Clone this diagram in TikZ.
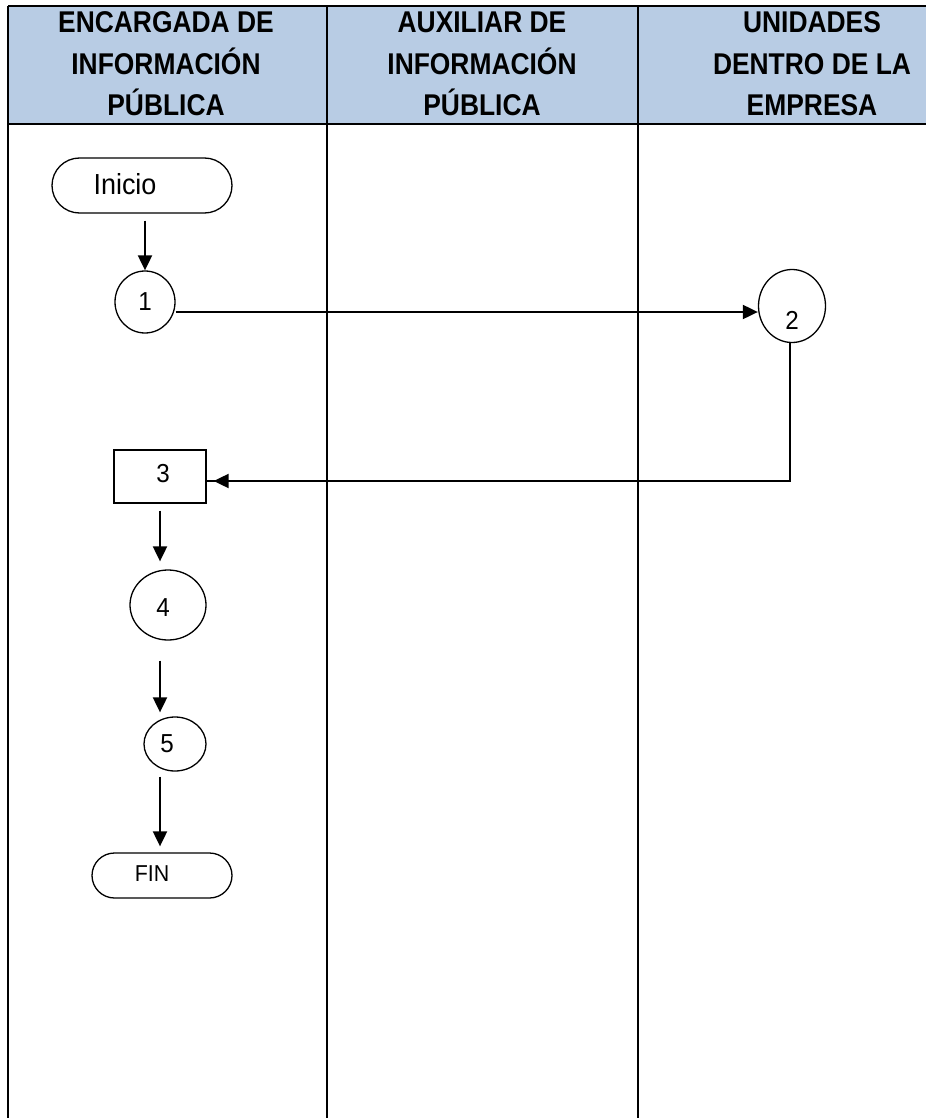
\documentclass[tikz,border=0pt]{standalone}
\usepackage{fontspec}
\setmainfont{Liberation Sans}[FakeStretch=0.93]
\newfontfamily\hdrfont{Liberation Sans}[FakeStretch=0.88]
\usetikzlibrary{arrows.meta,shapes.misc,shapes.geometric}
\definecolor{hdr}{RGB}{184,204,228}
\tikzset{
  shp/.style={draw, line width=1.3pt, inner sep=0pt},
  term/.style={shp, rounded rectangle},
  ell/.style={shp, ellipse},
  box/.style={shp, rectangle},
  dig/.style={font=\fontsize{26}{28}\selectfont},
  arr/.style={line width=2pt, -{Triangle[length=15pt,width=14pt]}},
  plain/.style={line width=1.6pt},
  grid/.style={line width=2pt},
  hd/.style={font=\hdrfont\fontsize{30}{41.5}\selectfont\bfseries, align=center},
}
\begin{document}
\begin{tikzpicture}[x=1pt,y=-1pt]
\useasboundingbox (0,0) rectangle (926,1118);
% header
\fill[hdr] (8,6) rectangle (926,124);
\draw[grid] (8,6) -- (926,6);
\draw[grid] (8,124) -- (926,124);
\draw[grid] (8,6) -- (8,1118);
\draw[grid] (327,6) -- (327,1118);
\draw[grid] (638,6) -- (638,1118);
\node[hd] (h1) at (166,64) {ENCARGADA DE\\INFORMACIÓN\\PÚBLICA};
\node[hd] (h2) at (482,64) {AUXILIAR DE\\INFORMACIÓN\\PÚBLICA};
\node[hd] (h3) at (812,64) {UNIDADES\\DENTRO DE LA\\EMPRESA};
% shapes
\node[term, minimum width=180pt, minimum height=55pt,
      label={[font=\fontsize{29}{31}\selectfont, xshift=-17pt, yshift=1pt]center:Inicio}] (ini) at (142,185.5) {};
\node[ell, dig, minimum width=60pt, minimum height=62pt] (c1) at (145,302) {1};
\node[ell, minimum width=67pt, minimum height=73pt,
      label={[dig, yshift=-14pt]center:2}] (c2) at (792,306) {};
\node[box, minimum width=92pt, minimum height=53pt,
      label={[dig, xshift=3pt, yshift=3pt]center:3}] (b3) at (160,476.5) {};
\node[ell, minimum width=76pt, minimum height=70pt,
      label={[dig, xshift=-5pt, yshift=-3pt]center:4}] (c4) at (168,605) {};
\node[ell, minimum width=62pt, minimum height=54pt,
      label={[dig, xshift=-8pt]center:5}] (c5) at (175,744) {};
\node[term, minimum width=140pt, minimum height=45pt,
      label={[font=\fontsize{23}{25}\selectfont, xshift=-10pt, yshift=2pt]center:FIN}] (fin) at (162,875.5) {};
% connectors
\draw[arr] ([yshift=-7pt]ini.south -| c1.north) -- (c1.north);
\draw[arr] ([yshift=-10pt]c1.east) -- ([yshift=-6pt]c2.west);
\draw[plain] ([xshift=-2pt]c2.south) |- ([yshift=-4.5pt]b3.east);
\draw[arr] ([yshift=-4.5pt, xshift=-2pt]c2.south |- b3.east) -- ([xshift=7pt, yshift=-4.5pt]b3.east);
\draw[arr] ([yshift=-7pt]b3.south) -- ([yshift=8pt]b3.south |- c4.north);
\draw[arr] ([yshift=-20pt]b3.south |- c4.south) -- ([yshift=4pt]b3.south |- c5.north);
\draw[arr] ([yshift=-5pt]b3.south |- c5.south) -- ([yshift=6pt]b3.south |- fin.north);
\end{tikzpicture}
\end{document}
